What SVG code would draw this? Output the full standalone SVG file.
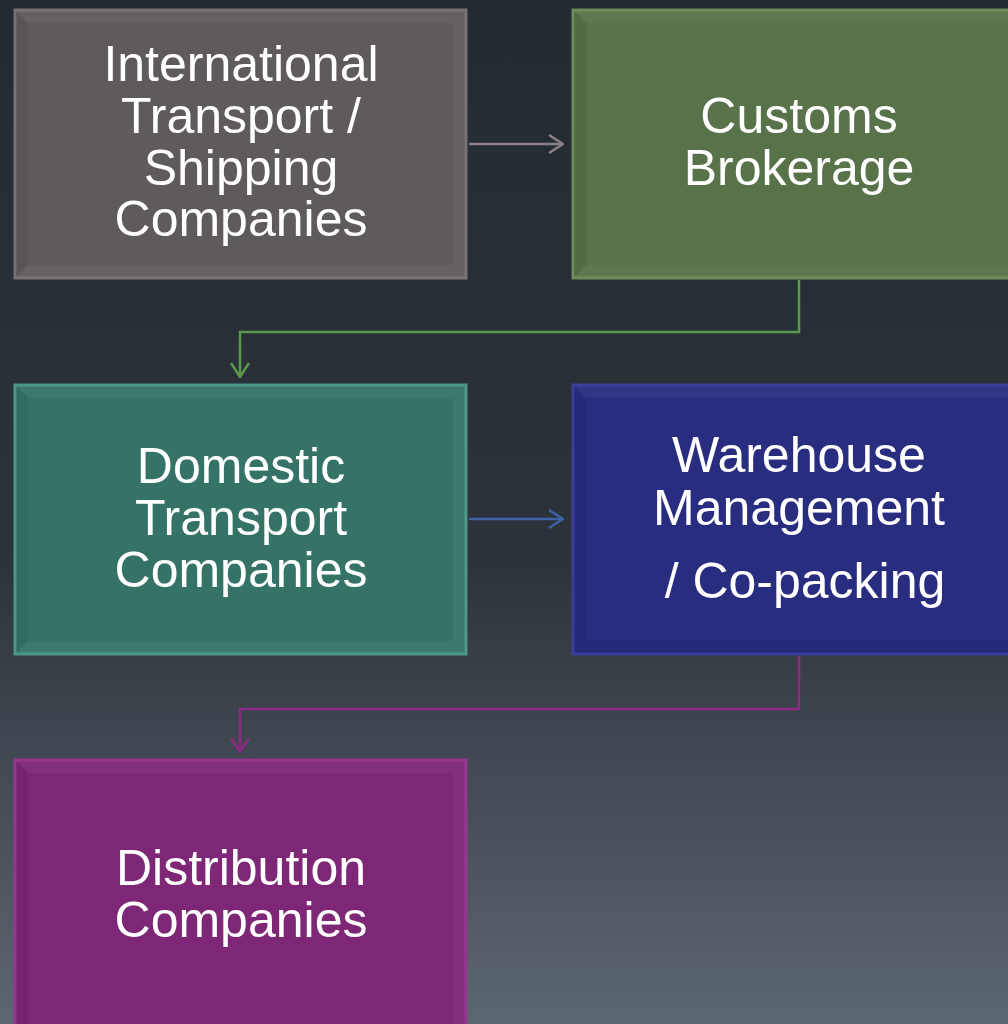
<svg xmlns="http://www.w3.org/2000/svg" width="1008" height="1024" viewBox="0 0 1008 1024">
<defs>
<linearGradient id="bg" x1="0" y1="0" x2="0" y2="1">
<stop offset="0" stop-color="#232a32"/>
<stop offset="0.55" stop-color="#2c333b"/>
<stop offset="1" stop-color="#5d6771"/>
</linearGradient>
<marker id="ahg" viewBox="0 0 16 20" refX="15" refY="10" markerWidth="16" markerHeight="20" markerUnits="userSpaceOnUse" orient="auto"><path d="M1,1 L15,10 L1,19" fill="none" stroke="#8a8086" stroke-width="2.5"/></marker>
<marker id="ahgr" viewBox="0 0 16 20" refX="15" refY="10" markerWidth="16" markerHeight="20" markerUnits="userSpaceOnUse" orient="auto"><path d="M1,1 L15,10 L1,19" fill="none" stroke="#5a9a4e" stroke-width="2.5"/></marker>
<marker id="ahb" viewBox="0 0 16 20" refX="15" refY="10" markerWidth="16" markerHeight="20" markerUnits="userSpaceOnUse" orient="auto"><path d="M1,1 L15,10 L1,19" fill="none" stroke="#3d63a8" stroke-width="2.5"/></marker>
<marker id="ahp" viewBox="0 0 16 20" refX="15" refY="10" markerWidth="16" markerHeight="20" markerUnits="userSpaceOnUse" orient="auto"><path d="M1,1 L15,10 L1,19" fill="none" stroke="#8e2a86" stroke-width="2.5"/></marker>
</defs>
<style>
.lbl{font-family:"Liberation Sans",Arial,sans-serif;font-size:50px;fill:#ffffff;text-anchor:middle}
.hl{fill:#ffffff;opacity:0.04}
.sh{fill:#000000;opacity:0.06}
.conn{fill:none;stroke-width:2.5}
</style>
<rect x="0" y="0" width="1008" height="1024" fill="url(#bg)"/>

<g id="node-international">
<rect x="15" y="10" width="451" height="268" fill="#5f5a5c" stroke="#797275" stroke-width="3"/>
<polygon class="hl" points="16,11 465,11 453,23 28,23"/>
<polygon class="sh" points="16,11 28,23 28,265 16,277"/>
<polygon class="hl" points="465,11 465,277 453,265 453,23"/>
<polygon class="hl" points="16,277 28,265 453,265 465,277"/>
<text class="lbl" x="241" y="81">International</text>
<text class="lbl" x="241" y="133">Transport /</text>
<text class="lbl" x="241" y="185">Shipping</text>
<text class="lbl" x="241" y="236">Companies</text>
</g>

<g id="node-customs">
<rect x="573" y="10" width="450" height="268" fill="#587249" stroke="#6c8c5c" stroke-width="3"/>
<polygon class="hl" points="574,11 1020,11 1008,23 586,23"/>
<polygon class="sh" points="574,11 586,23 586,265 574,277"/>
<polygon class="hl" points="574,277 586,265 1008,265 1020,277"/>
<text class="lbl" x="799" y="133">Customs</text>
<text class="lbl" x="799" y="185">Brokerage</text>
</g>

<g id="node-domestic">
<rect x="15" y="385" width="451" height="269" fill="#357367" stroke="#4a9887" stroke-width="3"/>
<polygon class="hl" points="16,386 465,386 453,398 28,398"/>
<polygon class="sh" points="16,386 28,398 28,641 16,653"/>
<polygon class="hl" points="465,386 465,653 453,641 453,398"/>
<polygon class="hl" points="16,653 28,641 453,641 465,653"/>
<text class="lbl" x="241" y="483">Domestic</text>
<text class="lbl" x="241" y="535">Transport</text>
<text class="lbl" x="241" y="587">Companies</text>
</g>

<g id="node-warehouse">
<rect x="573" y="385" width="450" height="269" fill="#292d80" stroke="#3a3f98" stroke-width="3"/>
<polygon class="hl" points="574,386 1020,386 1008,398 586,398"/>
<polygon class="sh" points="574,386 586,398 586,641 574,653"/>
<polygon class="sh" points="574,653 586,641 1008,641 1020,653"/>
<text class="lbl" x="799" y="472">Warehouse</text>
<text class="lbl" x="799" y="525">Management</text>
<text class="lbl" x="805" y="598">/ Co-packing</text>
</g>

<g id="node-distribution">
<rect x="15" y="760" width="451" height="280" fill="#7f2777" stroke="#983590" stroke-width="3"/>
<polygon class="hl" points="16,761 465,761 453,773 28,773"/>
<polygon class="sh" points="16,761 28,773 28,1040 16,1040"/>
<polygon class="hl" points="465,761 465,1040 453,1040 453,773"/>
<text class="lbl" x="241" y="885">Distribution</text>
<text class="lbl" x="241" y="937">Companies</text>
</g>

<g id="connectors">
<path class="conn" d="M469,144 L563,144" stroke="#8a8086" marker-end="url(#ahg)"/>
<path class="conn" d="M799,280 L799,332 L240,332 L240,377" stroke="#5a9a4e" marker-end="url(#ahgr)"/>
<path class="conn" d="M469,519 L563,519" stroke="#3d63a8" marker-end="url(#ahb)"/>
<path class="conn" d="M799,656 L799,709 L240,709 L240,752" stroke="#8e2a86" marker-end="url(#ahp)"/>
</g>
</svg>
